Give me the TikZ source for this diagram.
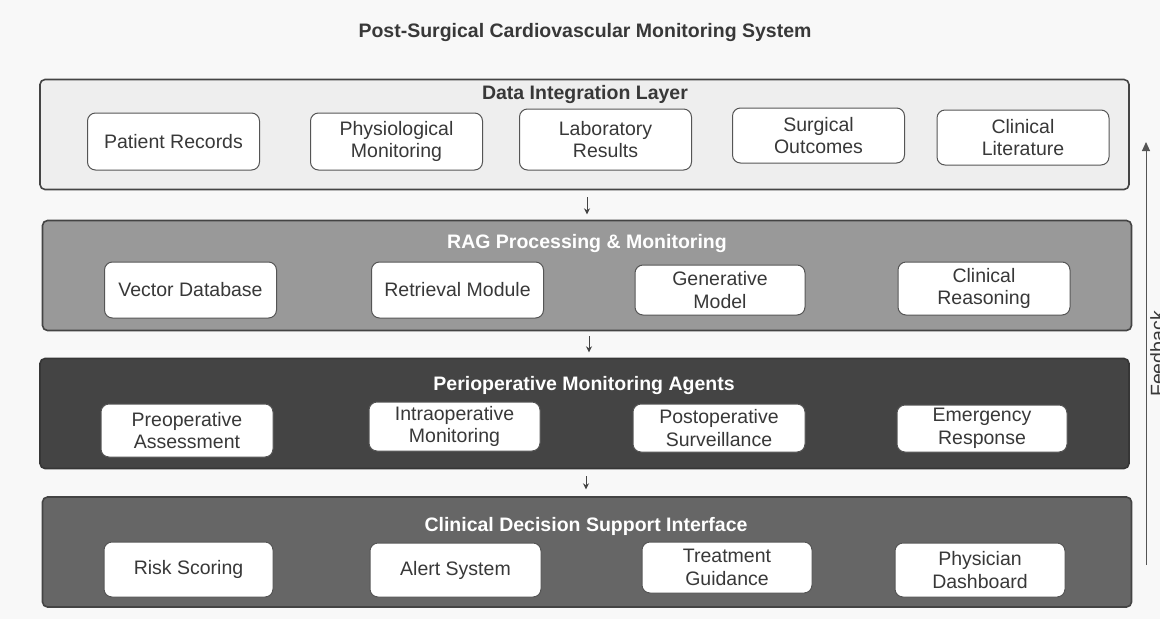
\documentclass[tikz,border=0pt]{standalone}
\usepackage{fontspec}
\setmainfont{Liberation Sans}
\usetikzlibrary{arrows.meta,calc}
\definecolor{bgc}{HTML}{F8F8F8}
\definecolor{lone}{HTML}{EEEEEE}
\definecolor{ltwo}{HTML}{999999}
\definecolor{lthree}{HTML}{444444}
\definecolor{lfour}{HTML}{666666}
\definecolor{edgec}{HTML}{444444}
\definecolor{boxedge}{HTML}{555555}
\definecolor{txt}{HTML}{383838}
\begin{document}
\begin{tikzpicture}[x=1pt,y=-1pt,
  layerbox/.style={draw=edgec, line width=1.6pt, rounded corners=5pt, inner sep=0pt, minimum width=1089pt, minimum height=110pt},
  itembox/.style={draw=boxedge, fill=white, line width=1pt, rounded corners=8pt, align=center, text=txt,
     font=\fontsize{19.5}{22.5}\selectfont, inner sep=0pt, minimum width=172pt},
  ltitle/.style={font=\bfseries\fontsize{19.5}{22.5}\selectfont, inner sep=0pt},
  arr/.style={-{Stealth[length=6pt,width=6pt]}, draw=edgec, line width=0.8pt},
  fbarr/.style={-{Triangle[length=9pt,width=8pt]}, draw=boxedge, line width=1pt}]
\useasboundingbox (0,0) rectangle (1160,619);
\fill[bgc] (0,0) rectangle (1160,619);

\node[ltitle, text=txt] (title) at (585,32) {Post-Surgical Cardiovascular Monitoring System};

% Layers
\node[layerbox, fill=lone] (l1) at (584.5,134.5) {};
\node[layerbox, fill=ltwo] (l2) at (587,275.5) {};
\node[layerbox, fill=lthree, draw=lthree!80!black] (l3) at (584.5,413.5) {};
\node[layerbox, fill=lfour] (l4) at (587,552) {};

\node[ltitle, text=txt] (t1) at (585,94) {Data Integration Layer};
\node[ltitle, text=white] (t2) at (587,243) {RAG Processing \& Monitoring};
\node[ltitle, text=white] (t3) at (584,385) {Perioperative Monitoring Agents};
\node[ltitle, text=white] (t4) at (586,526) {Clinical Decision Support Interface};

% Layer 1 items
\node[itembox, minimum height=57pt] (a1) at (173.5,141.5) {Patient Records};
\node[itembox, minimum height=57pt] (a2) at (396.5,141.5) {Physiological\\Monitoring};
\node[itembox, minimum height=61pt] (a3) at (605.5,139.5) {Laboratory\\Results};
\node[itembox, minimum height=55pt] (a4) at (818.5,135.5) {Surgical\\Outcomes};
\node[itembox, minimum height=55pt] (a5) at (1023,137.5) {Clinical\\Literature};

% Layer 2 items
\node[itembox, minimum height=56pt] (b1) at (190.5,290) {Vector Database};
\node[itembox, minimum height=56pt] (b2) at (457.5,290) {Retrieval Module};
\node[itembox, minimum height=50pt, minimum width=170pt] (b3) at (720,290) {Generative\\Model};
\node[itembox, minimum height=53pt] (b4) at (984,288.5) {Clinical\\Reasoning};

% Layer 3 items
\node[itembox, minimum height=53pt] (c1) at (187,430.5) {Preoperative\\Assessment};
\node[itembox, minimum height=49pt, minimum width=171pt] (c2) at (454.5,426.5) {Intraoperative\\Monitoring};
\node[itembox, minimum height=48pt] (c3) at (719,428) {Postoperative\\Surveillance};
\node[itembox, minimum height=47pt, minimum width=170pt] (c4) at (982,428.5) {Emergency\\Response};

% Layer 4 items
\node[itembox, minimum height=55pt, minimum width=169pt] (d1) at (188.5,569.5) {Risk Scoring};
\node[itembox, minimum height=54pt, minimum width=171pt] (d2) at (455.5,570) {Alert System};
\node[itembox, minimum height=51pt, minimum width=170pt] (d3) at (727,567.5) {Treatment\\Guidance};
\node[itembox, minimum height=54pt, minimum width=170pt] (d4) at (980,570) {Physician\\Dashboard};

% Flow arrows
\draw[arr] ($(l1.south)+(2.5,7)$) -- ++(0,17);
\draw[arr] ($(l2.south)+(2,5)$) -- ++(0,16);
\draw[arr] ($(l3.south)+(1.5,7)$) -- ++(0,13);

% Feedback
\coordinate (fb0) at (1146,565);
\coordinate (fb1) at (1146,142);
\draw[fbarr] (fb0) -- (fb1);
\node[rotate=90, anchor=north, text=txt, font=\fontsize{19.5}{22.5}\selectfont, inner sep=0pt] (fbl) at (1150,354) {Feedback};
\end{tikzpicture}
\end{document}
